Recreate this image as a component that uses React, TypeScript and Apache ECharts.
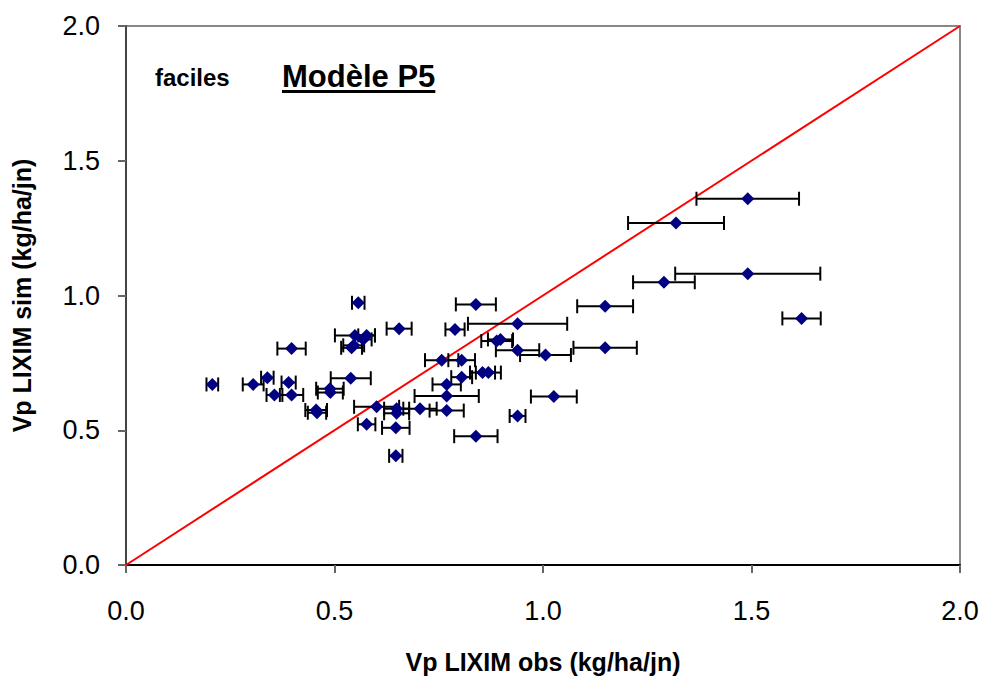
import React, { useEffect, useRef } from "react";
import * as echarts from "echarts";

// Observed values (x), simulated values (y), and half-width of horizontal error bars
const obs = [
  0.207, 0.305, 0.339, 0.390, 0.397, 0.356, 0.397, 0.456, 0.458, 0.489,
  0.490, 0.539, 0.557, 0.549, 0.577, 0.569, 0.541, 0.546, 0.601, 0.649,
  0.649, 0.577, 0.647, 0.647, 0.655, 0.705, 0.769, 0.769, 0.839, 0.839,
  0.789, 0.939, 0.889, 0.898, 0.939, 1.006, 0.757, 0.805, 0.805, 0.855,
  0.869, 0.769, 1.026, 0.939, 1.491, 1.319, 1.491, 1.290, 1.149, 1.620,
  1.149,
];
const sim = [
  0.670, 0.670, 0.695, 0.677, 0.803, 0.631, 0.631, 0.575, 0.565, 0.654,
  0.640, 0.693, 0.973, 0.852, 0.852, 0.837, 0.806, 0.815, 0.587, 0.580,
  0.563, 0.522, 0.509, 0.405, 0.877, 0.580, 0.627, 0.573, 0.478, 0.967,
  0.874, 0.895, 0.831, 0.837, 0.797, 0.779, 0.760, 0.760, 0.697, 0.714,
  0.714, 0.670, 0.625, 0.553, 1.359, 1.269, 1.081, 1.049, 0.960, 0.915,
  0.806,
];
const errObs = [
  0.014, 0.025, 0.015, 0.017, 0.034, 0.019, 0.028, 0.026, 0.022, 0.033,
  0.030, 0.048, 0.015, 0.048, 0.020, 0.020, 0.025, 0.025, 0.054, 0.030,
  0.030, 0.021, 0.033, 0.016, 0.030, 0.040, 0.077, 0.041, 0.052, 0.048,
  0.023, 0.119, 0.037, 0.030, 0.052, 0.061, 0.040, 0.032, 0.025, 0.030,
  0.030, 0.034, 0.055, 0.019, 0.123, 0.115, 0.174, 0.074, 0.067, 0.046,
  0.076,
];

const axisTicks = [0, 0.5, 1.0, 1.5, 2.0];
const identityLine = [
  [0, 0],
  [2, 2],
];

const xTitle = "Vp LIXIM obs (kg/ha/jn)";
const yTitle = "Vp LIXIM sim (kg/ha/jn)";
const subsetLabel = "faciles";
const modelLabel = "Modèle P5";

const FONT = "'Liberation Sans', Arial, sans-serif";

export default function App() {
  const ref = useRef<HTMLDivElement>(null);

  useEffect(() => {
    if (!ref.current) return;
    const chart = echarts.init(ref.current, undefined, { renderer: "svg" });

    const points = obs.map((x, i) => [x, sim[i], errObs[i]]);

    const modelFont = "bold 31px 'Liberation Sans', Arial, sans-serif";
    const cvs = document.createElement("canvas");
    const ctx = cvs.getContext("2d")!;
    ctx.font = modelFont;
    const modelW = ctx.measureText(modelLabel).width;

    const modelX = 282;
    const modelY = 76;

    chart.setOption({
      animation: false,
      backgroundColor: "#ffffff",
      grid: {
        left: 126,
        top: 26,
        right: 26,
        bottom: 113,
        show: true,
        borderColor: "#888888",
        borderWidth: 2,
        backgroundColor: "transparent",
      },
      xAxis: {
        type: "value",
        min: axisTicks[0],
        max: axisTicks[axisTicks.length - 1],
        interval: 0.5,
        name: xTitle,
        nameLocation: "middle",
        nameGap: 84,
        nameTextStyle: {
          fontFamily: FONT,
          fontWeight: "bold",
          fontSize: 25,
          color: "#000",
        },
        splitLine: { show: false },
        axisLine: { show: true, lineStyle: { color: "#000", width: 2 } },
        axisTick: {
          show: true,
          inside: false,
          length: 8,
          lineStyle: { color: "#666", width: 2 },
        },
        axisLabel: {
          margin: 32,
          fontFamily: FONT,
          fontSize: 27,
          color: "#000",
          formatter: (v: number) => v.toFixed(1),
        },
      },
      yAxis: {
        type: "value",
        min: axisTicks[0],
        max: axisTicks[axisTicks.length - 1],
        interval: 0.5,
        name: yTitle,
        nameLocation: "middle",
        nameGap: 92,
        nameRotate: 90,
        nameTextStyle: {
          fontFamily: FONT,
          fontWeight: "bold",
          fontSize: 25,
          color: "#000",
        },
        splitLine: { show: false },
        axisLine: { show: true, lineStyle: { color: "#444", width: 2 } },
        axisTick: {
          show: true,
          inside: false,
          length: 8,
          lineStyle: { color: "#666", width: 2 },
        },
        axisLabel: {
          margin: 26,
          fontFamily: FONT,
          fontSize: 27,
          color: "#000",
          formatter: (v: number) => v.toFixed(1),
        },
      },
      graphic: [
        {
          type: "text",
          x: 155,
          y: 77,
          style: {
            text: subsetLabel,
            font: "bold 24px 'Liberation Sans', Arial, sans-serif",
            fill: "#000",
            verticalAlign: "middle",
          },
        },
        {
          type: "text",
          x: modelX,
          y: modelY,
          style: {
            text: modelLabel,
            font: modelFont,
            fill: "#000",
            verticalAlign: "middle",
          },
        },
        {
          type: "rect",
          shape: { x: modelX, y: modelY + 14, width: modelW, height: 3 },
          style: { fill: "#000" },
        },
      ],
      series: [
        {
          type: "line",
          data: identityLine,
          symbol: "none",
          lineStyle: { color: "#ff0000", width: 2 },
          z: 1,
          silent: true,
        },
        {
          type: "custom",
          data: points,
          z: 2,
          renderItem: (params: any, api: any) => {
            const x = api.value(0);
            const y = api.value(1);
            const e = api.value(2);
            const p1 = api.coord([x - e, y]);
            const p2 = api.coord([x + e, y]);
            const cap = 7;
            const style = { stroke: "#000", lineWidth: 2 };
            return {
              type: "group",
              children: [
                { type: "line", shape: { x1: p1[0], y1: p1[1], x2: p2[0], y2: p2[1] }, style },
                { type: "line", shape: { x1: p1[0], y1: p1[1] - cap, x2: p1[0], y2: p1[1] + cap }, style },
                { type: "line", shape: { x1: p2[0], y1: p2[1] - cap, x2: p2[0], y2: p2[1] + cap }, style },
              ],
            };
          },
        },
        {
          type: "scatter",
          data: points.map((p) => [p[0], p[1]]),
          symbol: "diamond",
          symbolSize: 13,
          itemStyle: { color: "#000080", opacity: 1 },
          z: 3,
        },
      ],
    });

    return () => chart.dispose();
  }, []);

  return (
    <div
      ref={ref}
      style={{ position: "fixed", left: 0, top: 0, width: 986, height: 679, background: "#fff" }}
    />
  );
}
